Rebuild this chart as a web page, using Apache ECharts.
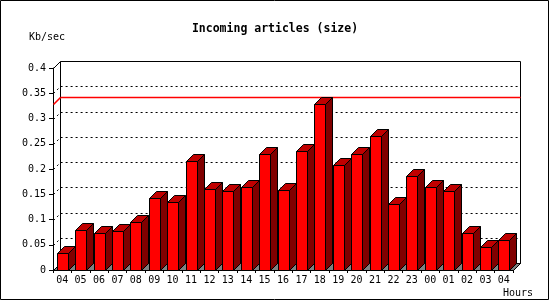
<!DOCTYPE html>
<html><head><meta charset="utf-8">
<script src="https://cdn.jsdelivr.net/npm/echarts@6/dist/echarts.min.js"></script>
<style>html,body{margin:0;padding:0;background:#fff}#c{width:550px;height:300px}</style>
</head><body><div id="c"></div>
<script>
const titleText = 'Incoming articles (size)';
const yUnit = 'Kb/sec';
const xUnit = 'Hours';
const hours = ['04','05','06','07','08','09','10','11','12','13','14','15','16','17','18','19','20','21','22','23','00','01','02','03','04'];
const sizeKbps = [0.033,0.080,0.073,0.078,0.096,0.142,0.134,0.215,0.161,0.157,0.165,0.229,0.159,0.235,0.328,0.207,0.229,0.266,0.130,0.187,0.165,0.156,0.074,0.045,0.059];
const yTicks = [0.05,0.1,0.15,0.2,0.25,0.3,0.35];
const yMin = 0, yMax = 0.4, yStep = 0.05;

const FONT = 'DejaVu Sans Mono';
const chart = echarts.init(document.getElementById('c'), null, {renderer:'canvas'});

function depthOf(api){ return Math.round(api.size([1,0])[0]*0.37); }
function px(v){ return Math.round(v)+0.5; }

const maxVal = Math.max.apply(null, sizeKbps);

chart.setOption({
  animation:false,
  backgroundColor:'#fff',
  title:{text:titleText,left:'center',top:18,
    textStyle:{fontFamily:FONT,fontWeight:'bold',fontSize:11.5,color:'#000'}},
  grid:{left:53,right:37,top:68,bottom:30},
  xAxis:{type:'category',data:hours,
    axisLine:{lineStyle:{color:'#000',width:1}},
    axisTick:{show:true,length:3,lineStyle:{color:'#000'}},
    axisLabel:{fontFamily:FONT,fontSize:10,color:'#000',margin:5,interval:0},
    splitLine:{show:false}},
  yAxis:{type:'value',min:yMin,max:yMax,interval:yStep,
    axisLine:{show:true,lineStyle:{color:'#000',width:1}},
    axisTick:{show:true,length:4,lineStyle:{color:'#000'}},
    axisLabel:{fontFamily:FONT,fontSize:10,color:'#000',margin:7,
      formatter:v=> v===0?'0':String(+v.toFixed(2))},
    splitLine:{show:false}},
  graphic:[
    {type:'rect',shape:{x:0.5,y:0.5,width:548,height:299},style:{fill:null,stroke:'#000',lineWidth:1},z:100},
    {type:'text',left:29,top:32,style:{text:yUnit,font:'10px "'+FONT+'"',fill:'#000'}},
    {type:'text',left:503,top:288,style:{text:xUnit,font:'10px "'+FONT+'"',fill:'#000'}}
  ],
  series:[
    {type:'custom',clip:false,z:1,silent:true,data:[[0,0]],
      renderItem:function(params,api){
        const cs=params.coordSys, d=depthOf(api);
        const x0=px(cs.x), x1=px(cs.x+cs.width), yt=px(cs.y), yb=px(cs.y+cs.height);
        return {type:'group',children:[
          {type:'rect',shape:{x:x0+d,y:yt-d,width:x1-x0,height:yb-yt},style:{fill:'#fff',stroke:'#000',lineWidth:1}},
          {type:'polygon',shape:{points:[[x0,yb],[x1,yb],[x1+d,yb-d],[x0+d,yb-d]]},style:{fill:'#808080',stroke:'#000',lineWidth:1}},
          {type:'line',shape:{x1:x0,y1:yt,x2:x0+d,y2:yt-d},style:{stroke:'#000',lineWidth:1}},
          {type:'line',shape:{x1:x1,y1:yb,x2:x1+d,y2:yb-d},style:{stroke:'#000',lineWidth:1}}
        ]};
      }},
    {type:'custom',clip:false,z:2,silent:true,data:yTicks.map(v=>[0,v]),
      renderItem:function(params,api){
        const cs=params.coordSys, d=depthOf(api);
        const x0=px(cs.x), x1=px(cs.x+cs.width);
        const y=px(api.coord([0,api.value(1)])[1]);
        return {type:'polyline',shape:{points:[[x0,y],[x0+d,y-d],[x1+d,y-d]]},
          style:{stroke:'#000',lineWidth:1,lineDash:[2,3],fill:null}};
      }},
    {type:'custom',clip:false,z:3,silent:true,data:[[0,maxVal]],
      renderItem:function(params,api){
        const cs=params.coordSys, d=depthOf(api);
        const x0=px(cs.x), x1=px(cs.x+cs.width);
        const y=px(api.coord([0,api.value(1)])[1]);
        return {type:'group',children:[
          {type:'line',shape:{x1:x0,y1:y,x2:x0+d,y2:y-d},style:{stroke:'#ff0000',lineWidth:1.6}},
          {type:'line',shape:{x1:x0+d,y1:y-d,x2:x1+d,y2:y-d},style:{stroke:'#ff0000',lineWidth:1.6}}
        ]};
      }},
    {type:'custom',clip:false,z:4,silent:true,data:sizeKbps.map((v,i)=>[i,v]),
      renderItem:function(params,api){
        const d=depthOf(api);
        const band=api.size([1,0])[0];
        const w=Math.round(band*0.6);
        const c=api.coord([api.value(0),api.value(1)]);
        const b=api.coord([api.value(0),0]);
        const xl=px(c[0]-w/2), xr=xl+w, top=px(c[1]), bot=px(b[1]);
        const st={stroke:'#000',lineWidth:1};
        return {type:'group',children:[
          {type:'polygon',shape:{points:[[xr,top],[xr+d,top-d],[xr+d,bot-d],[xr,bot]]},style:Object.assign({fill:'#800000'},st)},
          {type:'polygon',shape:{points:[[xl,top],[xr,top],[xr+d,top-d],[xl+d,top-d]]},style:Object.assign({fill:'#c00000'},st)},
          {type:'rect',shape:{x:xl,y:top,width:w,height:bot-top},style:Object.assign({fill:'#ff0000'},st)}
        ]};
      }}
  ]
});
</script></body></html>
